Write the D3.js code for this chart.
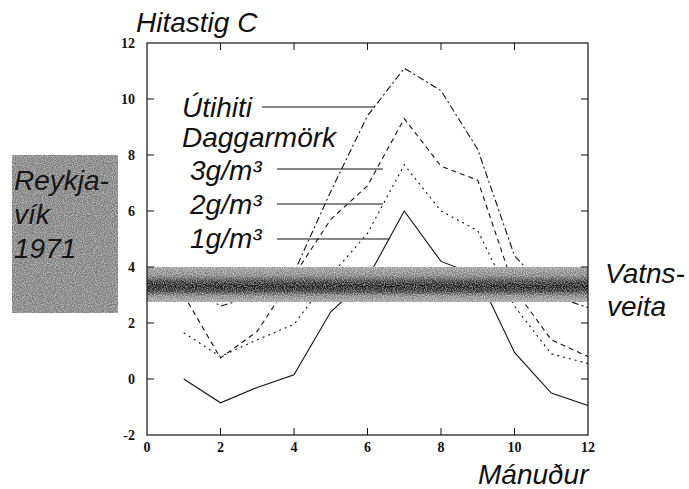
<!DOCTYPE html>
<html>
<head>
<meta charset="utf-8">
<script src="https://cdn.jsdelivr.net/npm/d3@7"></script>
<style>
  body { margin: 0; background: #fff; }
  text { font-family: "Liberation Sans", Arial, sans-serif; }
  .lbl { font-style: italic; font-size: 28px; fill: #111; }
  .tick { font-family: "Liberation Serif", "Times New Roman", serif; font-weight: bold; font-size: 14px; fill: #111; }
</style>
</head>
<body>
<svg id="chart" width="689" height="489"></svg>
<script>
// months along the x axis
var months = [1, 2, 3, 4, 5, 6, 7, 8, 9, 10, 11, 12];
// temperature curves
var utihiti = [3.5, 2.6, 3.0, 3.8, 6.7, 9.4, 11.1, 10.3, 8.2, 4.4, 3.0, 2.55];
var g3 = [3.0, 0.75, 1.7, 3.7, 5.7, 6.9, 9.3, 7.6, 7.1, 3.2, 1.4, 0.8];
var g2 = [1.65, 0.8, 1.4, 1.95, 3.7, 5.2, 7.65, 6.0, 5.3, 2.6, 0.9, 0.55];
var g1 = [0.0, -0.85, -0.3, 0.15, 2.4, 3.6, 6.0, 4.2, 3.7, 0.95, -0.5, -0.95];
// water supply band (low, high)
var vatnsveita = [2.75, 4.0];
var xTicks = [0, 2, 4, 6, 8, 10, 12];
var yTicks = [-2, 0, 2, 4, 6, 8, 10, 12];

var svg = d3.select("#chart");
var x = d3.scaleLinear().domain([0, 12]).range([147, 588]);
var y = d3.scaleLinear().domain([-2, 12]).range([435, 43]);

var defs = svg.append("defs");
// speckle, to get the scanned halftone look
var grain = defs.append("filter").attr("id", "grain")
    .attr("x", 0).attr("y", 0).attr("width", 1).attr("height", 1);
grain.append("feTurbulence").attr("type", "fractalNoise")
    .attr("baseFrequency", 0.9).attr("numOctaves", 1).attr("seed", 3).attr("result", "n");
grain.append("feColorMatrix").attr("in", "n").attr("type", "matrix")
    .attr("values", "0 0 0 0 1  0 0 0 0 1  0 0 0 0 1  0 0 0 4 -1.6").attr("result", "w");
grain.append("feComposite").attr("in", "w").attr("in2", "SourceAlpha").attr("operator", "in");

// curves
var line = d3.line()
    .x(function(d, i) { return x(months[i]); })
    .y(function(d) { return y(d); });

var series = [
    {data: utihiti, dash: "7,3,2,3"},
    {data: g3, dash: "5,4"},
    {data: g2, dash: "2,4"},
    {data: g1, dash: null}
];
series.forEach(function(s) {
    svg.append("path")
        .attr("d", line(s.data))
        .attr("fill", "none")
        .attr("stroke", "#111")
        .attr("stroke-width", 1.1)
        .attr("stroke-dasharray", s.dash);
});

// band
var grad = defs.append("linearGradient")
    .attr("id", "band").attr("x1", 0).attr("x2", 0).attr("y1", 0).attr("y2", 1);
[[0, "#9a9a9a"], [0.25, "#7c7c7c"], [0.4, "#3a3a3a"], [0.55, "#111"],
 [0.7, "#333"], [0.82, "#808080"], [1, "#a0a0a0"]].forEach(function(s) {
    grad.append("stop").attr("offset", s[0]).attr("stop-color", s[1]);
});
var bandY = y(vatnsveita[1]), bandH = y(vatnsveita[0]) - y(vatnsveita[1]);
svg.append("rect")
    .attr("x", x(0)).attr("width", x(12) - x(0))
    .attr("y", bandY).attr("height", bandH)
    .attr("fill", "url(#band)");
svg.append("rect")
    .attr("x", x(0)).attr("width", x(12) - x(0))
    .attr("y", bandY).attr("height", bandH)
    .attr("fill", "#fff").attr("opacity", 0.45).attr("filter", "url(#grain)");

// frame
svg.append("rect")
    .attr("x", x(0)).attr("y", y(12))
    .attr("width", x(12) - x(0)).attr("height", y(-2) - y(12))
    .attr("fill", "none").attr("stroke", "#111").attr("stroke-width", 1.2);

var tl = 7;
xTicks.slice(1, -1).forEach(function(t) {
    svg.append("line").attr("x1", x(t)).attr("x2", x(t))
        .attr("y1", y(-2)).attr("y2", y(-2) - tl).attr("stroke", "#111");
    svg.append("line").attr("x1", x(t)).attr("x2", x(t))
        .attr("y1", y(12)).attr("y2", y(12) + tl).attr("stroke", "#111");
});
yTicks.slice(1, -1).forEach(function(t) {
    svg.append("line").attr("x1", x(0)).attr("x2", x(0) + tl)
        .attr("y1", y(t)).attr("y2", y(t)).attr("stroke", "#111");
    svg.append("line").attr("x1", x(12)).attr("x2", x(12) - tl)
        .attr("y1", y(t)).attr("y2", y(t)).attr("stroke", "#111");
});
xTicks.forEach(function(t) {
    svg.append("text").attr("class", "tick")
        .attr("x", x(t)).attr("y", 452)
        .attr("text-anchor", "middle").text(t);
});
yTicks.forEach(function(t) {
    svg.append("text").attr("class", "tick")
        .attr("x", 135).attr("y", y(t) + 5)
        .attr("text-anchor", "end").text(t);
});

// labels
svg.append("text").attr("class", "lbl").attr("x", 136).attr("y", 32).text("Hitastig C");
svg.append("text").attr("class", "lbl").attr("x", 478).attr("y", 484).text("Mánuður");
svg.append("text").attr("class", "lbl").attr("x", 605).attr("y", 283).text("Vatns-");
svg.append("text").attr("class", "lbl").attr("x", 607).attr("y", 316).text("veita");

var legend = [
    {t: "Útihiti", x: 182, y: 117, x1: 262, x2: 375, ly: 107},
    {t: "Daggarmörk", x: 182, y: 147},
    {t: "3g/m³", x: 190, y: 180, x1: 277, x2: 383, ly: 169},
    {t: "2g/m³", x: 190, y: 214, x1: 277, x2: 383, ly: 204},
    {t: "1g/m³", x: 190, y: 248, x1: 277, x2: 390, ly: 239}
];
legend.forEach(function(l) {
    svg.append("text").attr("class", "lbl").attr("x", l.x).attr("y", l.y).text(l.t);
    if (l.x1) {
        svg.append("line").attr("x1", l.x1).attr("x2", l.x2)
            .attr("y1", l.ly).attr("y2", l.ly)
            .attr("stroke", "#111").attr("stroke-width", 1.1);
    }
});

// Reykjavik box
svg.append("rect").attr("x", 12).attr("y", 155).attr("width", 106).attr("height", 158)
    .attr("fill", "#7e7e7e");
svg.append("rect").attr("x", 12).attr("y", 155).attr("width", 106).attr("height", 158)
    .attr("fill", "#fff").attr("opacity", 0.4).attr("filter", "url(#grain)");
["Reykja-", "vík", "1971"].forEach(function(s, i) {
    svg.append("text").attr("class", "lbl")
        .attr("x", 14).attr("y", 190 + i * 34)
        .style("fill", "#151515").text(s);
});
</script>
</body>
</html>
